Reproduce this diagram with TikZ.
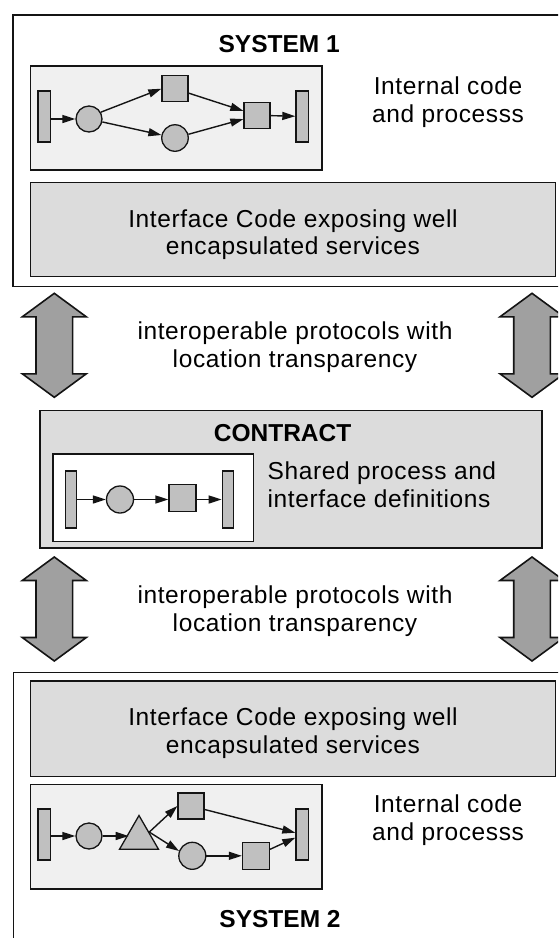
\documentclass[tikz,border=0pt]{standalone}
\usepackage{fontspec}
\setmainfont{Liberation Sans}
\newfontfamily\plainfont{Liberation Sans}[LetterSpace=2.5]
\usetikzlibrary{arrows.meta,shapes.geometric}
\definecolor{inkcol}{HTML}{141414}
\definecolor{panelfill}{HTML}{F0F0F0}
\definecolor{layerfill}{HTML}{DCDCDC}
\definecolor{shapefill}{HTML}{C0C0C0}
\definecolor{flowfill}{HTML}{A0A0A0}
\tikzset{
  frame/.style={draw=inkcol, line width=1.6pt, fill=white, inner sep=0pt, anchor=north west},
  layer/.style={draw=inkcol, line width=1.6pt, fill=layerfill, inner sep=0pt, anchor=north west},
  panel/.style={draw=inkcol, line width=1.6pt, fill=panelfill, inner sep=0pt, anchor=north west},
  bar/.style={draw=inkcol, line width=1.3pt, fill=shapefill, inner sep=0pt,
    minimum width=12.5pt, minimum height=51pt},
  place/.style={circle, draw=inkcol, line width=1.3pt, fill=shapefill, inner sep=0pt, minimum size=26pt},
  trans/.style={rectangle, draw=inkcol, line width=1.3pt, fill=shapefill, inner sep=0pt, minimum size=26pt},
  splitter/.style={regular polygon, regular polygon sides=3, draw=inkcol, line width=1.3pt,
    fill=shapefill, inner sep=0pt, minimum size=45pt},
  arr/.style={draw=inkcol, line width=1.4pt, -{Triangle[length=13pt,width=8pt]}},
  body/.style={font=\plainfont\fontsize{24.5}{27.7}\selectfont, align=center, inner sep=0pt},
  title/.style={font=\bfseries\fontsize{24.5}{27.7}\selectfont, inner sep=0pt, anchor=base},
  bigarrow/.style={draw=inkcol, line width=1.6pt, fill=flowfill, line join=miter},
  dblarrow/.pic={
    \draw[bigarrow] (0,-52) -- (32,-28.5) -- (18.3,-28.5) -- (18.3,28.5) -- (32,28.5)
      -- (0,52) -- (-32,28.5) -- (-18.3,28.5) -- (-18.3,-28.5) -- (-32,-28.5) -- cycle;
  }
}
\begin{document}
\begin{tikzpicture}[x=1pt,y=-1pt]
\useasboundingbox (0,0) rectangle (558,938);
\clip (0,0) rectangle (558,938);

% ---------- System 1 ----------
\node[frame, minimum width=565pt, minimum height=271.5pt] (sys1) at (12,14) {};
\node[title] (sys1title) at (279.2,52.3) {SYSTEM 1};
\node[panel, minimum width=291.5pt, minimum height=104pt] (proc1) at (29.5,65) {};
\node[body] (int1) at (448,102.5) {Internal code\\and processs};
\node[layer, minimum width=525pt, minimum height=94pt] (if1) at (29.5,181.7) {};
\node[body] (if1text) at (293,234.8) {Interface Code exposing well\\encapsulated services};

\node[bar] (b1a) at (44.2,116.4) {};
\node[place] (p1a) at (89,119) {};
\node[trans] (t1a) at (175,88.7) {};
\node[place, minimum size=26.5pt] (p1b) at (175,138) {};
\node[trans] (t1b) at (257,115.3) {};
\node[bar] (b1b) at (302.2,116.4) {};
\draw[arr] (b1a.east |- p1a) -- (p1a);
\draw[arr] (p1a.30) -- (t1a.west);
\draw[arr] (p1a) -- (p1b);
\draw[arr] (t1a) -- (t1b);
\draw[arr] (p1b) -- (t1b);
\draw[arr] (t1b) -- (b1b);

% ---------- protocol links, upper pair ----------
\pic (linkLa) at (54.3,345.3) {dblarrow};
\pic (linkRa) at (532,345.3) {dblarrow};
\node[body] (proto1) at (295,347.5) {interoperable protocols with\\location transparency};

% ---------- Contract ----------
\node[layer, minimum width=501.7pt, minimum height=137.5pt] (contract) at (39.3,409.5) {};
\node[title] (contracttitle) at (282.6,441.7) {CONTRACT};
\node[frame, minimum width=200.7pt, minimum height=87.4pt] (shared) at (52,453.3) {};
\node[body, align=left, anchor=west] (sharedtext) at (267.5,484.9) {Shared process and\\interface definitions};

\node[bar, minimum width=11pt, minimum height=57pt] (bc1) at (71,499.5) {};
\node[place, minimum size=27pt] (pc) at (120,499.5) {};
\node[trans, minimum size=27pt] (tc) at (182.5,498) {};
\node[bar, minimum width=11.5pt, minimum height=57pt] (bc2) at (228,499.5) {};
\draw[arr] (bc1) -- (pc);
\draw[arr] (pc) -- (pc -| tc.west);
\draw[arr] (tc.east |- pc) -- (pc -| bc2.west);

% ---------- protocol links, lower pair ----------
\pic (linkLb) at (54.3,609) {dblarrow};
\pic (linkRb) at (532,609) {dblarrow};
\node[body] (proto2) at (295,611.5) {interoperable protocols with\\location transparency};

% ---------- System 2 ----------
\node[frame, minimum width=565pt, minimum height=290pt] (sys2) at (12.5,671.7) {};
\node[layer, minimum width=525pt, minimum height=95.7pt] (if2) at (29.5,680) {};
\node[body] (if2text) at (293,733.5) {Interface Code exposing well\\encapsulated services};
\node[panel, minimum width=291.5pt, minimum height=104.5pt] (proc2) at (29.5,783.5) {};
\node[body] (int2) at (448,820.2) {Internal code\\and processs};
\node[title] (sys2title) at (280,927.3) {SYSTEM 2};

\node[bar] (b2a) at (44.2,834.5) {};
\node[place] (p2a) at (89,836) {};
\node[splitter] (tri) at (139,838) {};
\node[trans] (t2a) at (191,806) {};
\node[place, minimum size=27pt] (p2b) at (192.3,855.8) {};
\node[trans, minimum size=27pt] (t2b) at (256,855.8) {};
\node[bar] (b2b) at (302.2,834.5) {};
\draw[arr] (b2a.east |- p2a) -- (p2a);
\draw[arr] (p2a) -- (p2a -| tri.side 1);
\draw[arr] (tri.side 3) -- (t2a.west);
\draw[arr] (tri.side 3) -- (p2b.160);
\draw[arr] (t2a) -- (b2b);
\draw[arr] (p2b) -- (t2b);
\draw[arr] (t2b) -- (b2b);
\end{tikzpicture}
\end{document}
